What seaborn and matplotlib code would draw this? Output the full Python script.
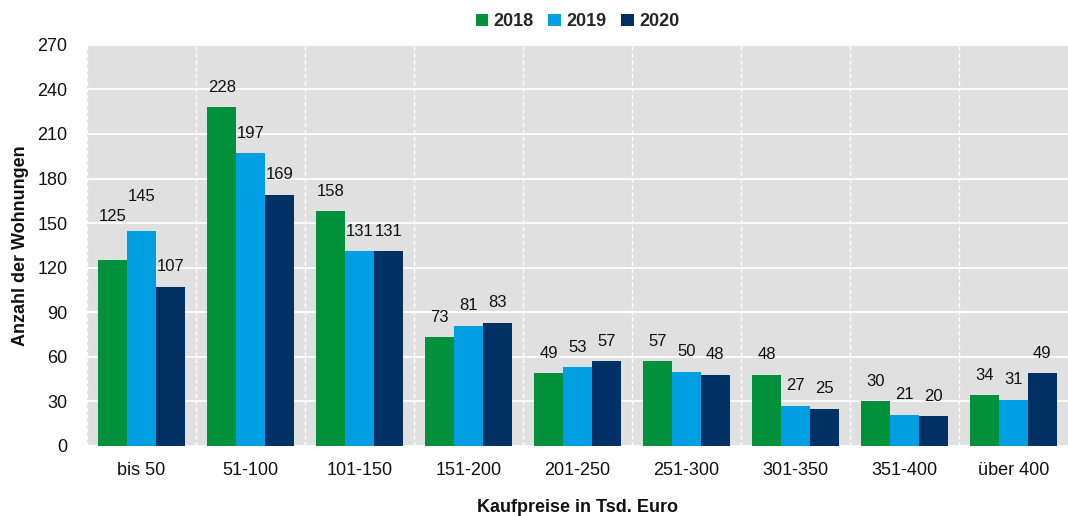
import pandas as pd
import matplotlib.pyplot as plt
import seaborn as sns

# data
categories = ["bis 50", "51-100", "101-150", "151-200", "201-250",
              "251-300", "301-350", "351-400", "über 400"]
years = ["2018", "2019", "2020"]
values_2018 = [125, 228, 158, 73, 49, 57, 48, 30, 34]
values_2019 = [145, 197, 131, 81, 53, 50, 27, 21, 31]
values_2020 = [107, 169, 131, 83, 57, 48, 25, 20, 49]

df = pd.DataFrame({
    "kategorie": categories * 3,
    "jahr": [y for y in years for _ in categories],
    "anzahl": values_2018 + values_2019 + values_2020,
})

colors = ["#00913A", "#009FE3", "#003064"]

sns.set_theme(style="darkgrid")
plt.rcParams["font.family"] = ["Liberation Sans", "DejaVu Sans"]

fig = plt.figure(figsize=(10.68, 5.16), dpi=100)
ax = fig.add_axes([0.0815, 0.136, 0.9185, 0.777])
ax.set_facecolor("#E0E0E0")

sns.barplot(data=df, x="kategorie", y="anzahl", hue="jahr",
            palette=colors, width=0.79, saturation=1, ax=ax,
            order=categories, hue_order=years, linewidth=0, edgecolor="none")

# label padding like the excel original (first group sits higher)
extra_pad = {(0, 0): 17, (1, 0): 10}
for j, cont in enumerate(ax.containers):
    for i, bar in enumerate(cont):
        h = bar.get_height()
        ax.annotate(f"{h:.0f}", (bar.get_x() + bar.get_width() / 2, h),
                    xytext=(0, 9 + extra_pad.get((j, i), 0)),
                    textcoords="offset points", ha="center", va="bottom",
                    fontsize=12, color="#111111")

ax.set_ylim(0, 270)
ax.set_yticks(range(0, 271, 30))
ax.set_xlim(-0.5, len(categories) - 0.5)
ax.grid(axis="y", color="white", linewidth=1.3, linestyle="-")
ax.grid(axis="x", visible=False)
for xb in [i - 0.5 for i in range(len(categories))]:
    ax.axvline(xb, color="white", linestyle=(0, (3, 2)), linewidth=1.0, zorder=0.5)
ax.set_axisbelow(True)
for s in ax.spines.values():
    s.set_visible(False)

ax.tick_params(axis="both", labelsize=13, length=0, colors="#111111")
ax.tick_params(axis="x", pad=12)
ax.tick_params(axis="y", pad=14)

ax.set_xlabel("Kaufpreise in Tsd. Euro", fontsize=13, fontweight="bold",
              labelpad=14, color="#111111")
ax.set_ylabel("Anzahl der Wohnungen", fontsize=13, fontweight="bold",
              labelpad=6, color="#111111")

leg = ax.legend(loc="lower center", bbox_to_anchor=(0.5, 1.005), ncol=3,
                frameon=False, prop={"weight": "bold", "size": 13},
                handlelength=0.7, handleheight=0.7, handletextpad=0.3,
                columnspacing=0.8, borderaxespad=0.3)

fig.savefig("out.png", dpi=100, facecolor="white")
